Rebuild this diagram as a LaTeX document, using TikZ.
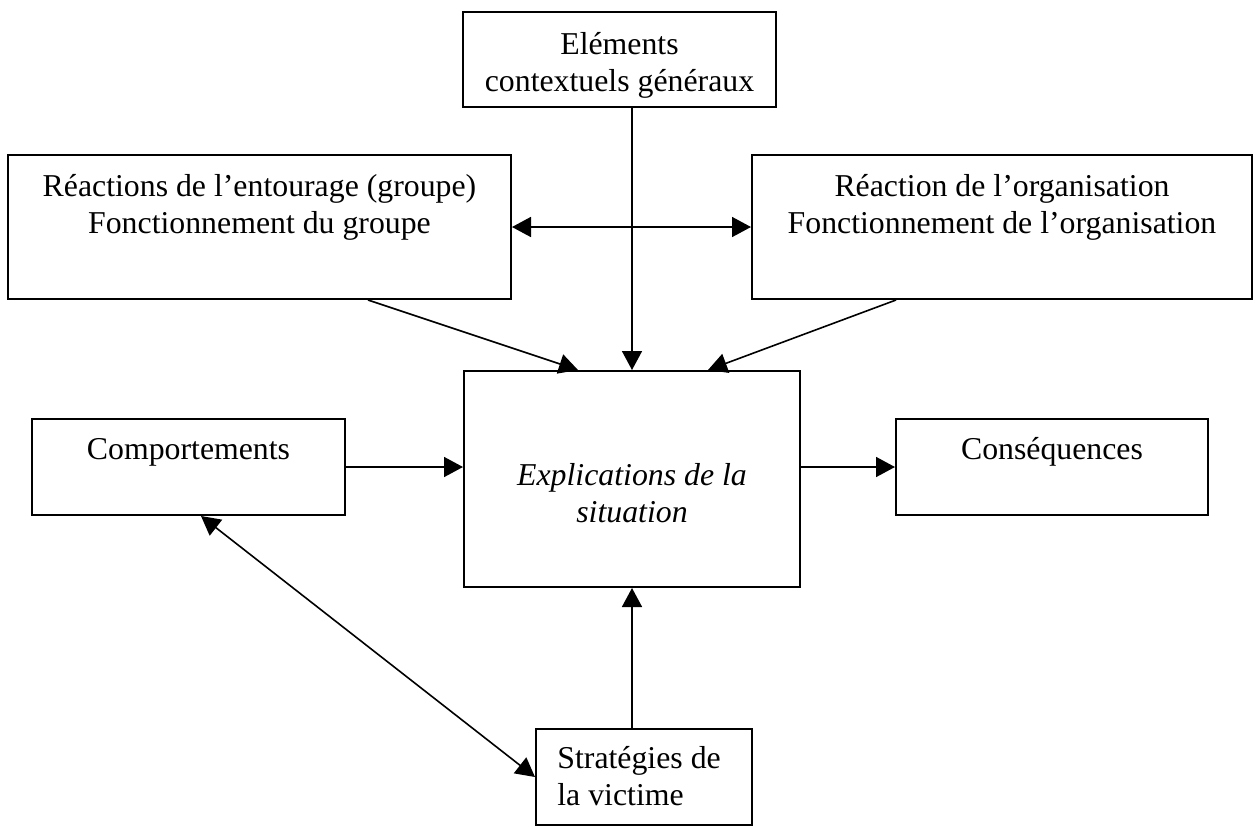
\documentclass[tikz,border=0pt]{standalone}
\usepackage{fontspec}
\setmainfont{Liberation Serif}
\usetikzlibrary{arrows.meta,calc}
\begin{document}
\begin{tikzpicture}[x=0.5pt,y=-0.5pt,
  box/.style={draw,line width=1pt,rectangle,inner sep=0pt},
  lbl/.style={anchor=base,inner sep=0pt,align=center,font=\fontsize{15.9pt}{18.5pt}\selectfont},
  conn/.style={line width=0.8pt,-{Triangle[length=9.5pt,width=10pt]}},
  dconn/.style={line width=0.8pt,{Triangle[length=9.5pt,width=10pt]}-{Triangle[length=9.5pt,width=10pt]}}]
\useasboundingbox (0,0) rectangle (1255,826);
% boxes
\node[box,minimum width=156.5pt,minimum height=47.5pt] (T) at (619.5,59.5) {};
\node[box,minimum width=251.5pt,minimum height=72pt] (L) at (259.5,227) {};
\node[box,minimum width=250pt,minimum height=72pt] (R) at (1002,227) {};
\node[box,minimum width=168pt,minimum height=108pt] (C) at (632,479) {};
\node[box,minimum width=156.5pt,minimum height=48pt] (Co) at (188.5,467) {};
\node[box,minimum width=156pt,minimum height=48pt] (Cs) at (1052,467) {};
\node[box,minimum width=108pt,minimum height=48pt] (S) at (644,777) {};
% texts (base anchor = baseline of last line)
\node[lbl] (tT) at (619.5,91) {Eléments\\contextuels généraux};
\node[lbl] (tL) at (259.5,233) {Réactions de l’entourage (groupe)\\Fonctionnement du groupe};
\node[lbl] (tR) at (1002,233) {Réaction de l’organisation\\Fonctionnement de l’organisation};
\node[lbl,font=\fontsize{15.9pt}{18.5pt}\selectfont\itshape] (tC) at (632,522) {Explications de la\\situation};
\node[lbl] (tCo) at (188.5,459) {Comportements};
\node[lbl] (tCs) at (1052,459) {Conséquences};
\node[lbl,align=left,anchor=base west] (tS) at (557,805) {Stratégies de\\la victime};
% connectors
\draw[conn] (T.south -| C.north) -- (C.north);
\draw[dconn] (L.east) -- (R.west);
\draw[conn] ($(L.south)+(108.5,0)$) -- ($(C.north)+(-54,0)$);
\draw[conn] ($(R.south)+(-106,0)$) -- ($(C.north)+(76,0)$);
\draw[conn] (Co.east) -- (Co.east -| C.west);
\draw[conn] (Cs.west -| C.east) -- (Cs.west);
\draw[conn] (S.north -| C.south) -- (C.south);
\draw[dconn] ($(Co.south)+(12.5,0)$) -- (S.west);
\end{tikzpicture}
\end{document}
